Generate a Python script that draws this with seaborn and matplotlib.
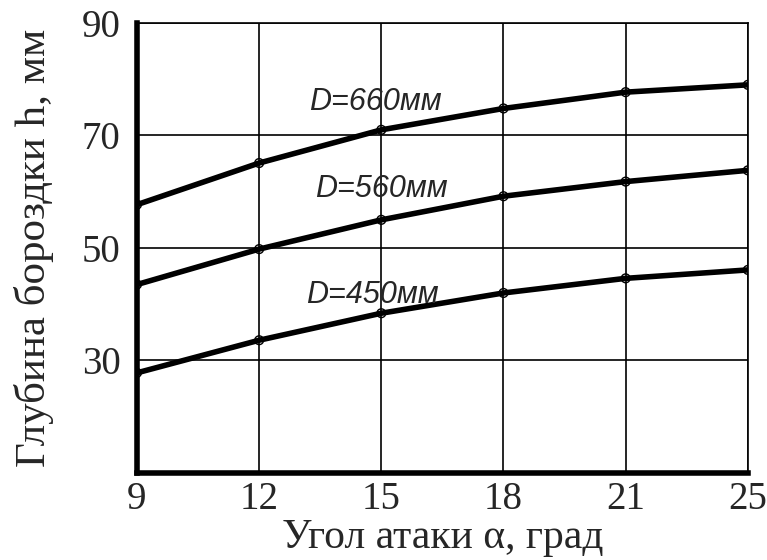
import pandas as pd
import seaborn as sns
import matplotlib.pyplot as plt

# ---------------------------
# Data
# ---------------------------
angles = [9, 12, 15, 18, 21, 25]
h_660 = [57.7, 65.1, 71.0, 74.8, 77.7, 79.0]
h_560 = [43.5, 49.8, 55.0, 59.2, 61.8, 63.8]
h_450 = [27.8, 33.6, 38.4, 42.0, 44.6, 46.1]
diameters = ["D=660мм", "D=560мм", "D=450мм"]
series = [h_660, h_560, h_450]
y_ticks = [30, 50, 70, 90]

rows = []
for name, vals in zip(diameters, series):
    for i, (a, h) in enumerate(zip(angles, vals)):
        rows.append({"pos": i, "angle": a, "h": h, "D": name})
df = pd.DataFrame(rows)

sns.set_style("white")
plt.rcParams["font.family"] = ["Liberation Serif", "DejaVu Serif"]

fig = plt.figure(figsize=(7.67, 5.6), dpi=100)
ax = fig.add_axes([0.1786, 0.1554, 0.975 - 0.1786, 0.959 - 0.1554])

sns.lineplot(data=df, x="pos", y="h", hue="D", palette=["black"] * 3,
             linewidth=4, legend=False, ax=ax, zorder=3)
sns.scatterplot(data=df, x="pos", y="h", color="black", s=40,
                facecolor="none", edgecolor="black", linewidth=1.0,
                legend=False, ax=ax, zorder=4)

# curve labels, placed over the curves
label_pos = {"D=660мм": (1.95, 76.0), "D=560мм": (2.0, 60.5), "D=450мм": (1.93, 41.6)}
for name in diameters:
    x, y = label_pos[name]
    ax.text(x, y, name, ha="center", va="center", fontsize=22, style="italic",
            family=["Liberation Sans", "DejaVu Sans"], zorder=5)

ax.set_xlim(0, len(angles) - 1)
ax.set_ylim(10, 90)
ax.set_xticks(range(len(angles)))
ax.set_xticklabels([str(a) for a in angles])
ax.set_yticks(y_ticks)
ax.grid(True, color="black", linewidth=1.2)
ax.tick_params(axis="y", length=0, labelsize=28, pad=12)
ax.tick_params(axis="x", length=0, labelsize=28, pad=6)

for side in ["left", "bottom"]:
    ax.spines[side].set_linewidth(4)
    ax.spines[side].set_color("black")
for side in ["top", "right"]:
    ax.spines[side].set_linewidth(1.2)
    ax.spines[side].set_color("black")

ax.set_xlabel("Угол атаки α, град", fontsize=30, labelpad=0)
ax.set_ylabel("Глубина бороздки h, мм", fontsize=31, labelpad=20)

fig.savefig("out.png", dpi=100)
